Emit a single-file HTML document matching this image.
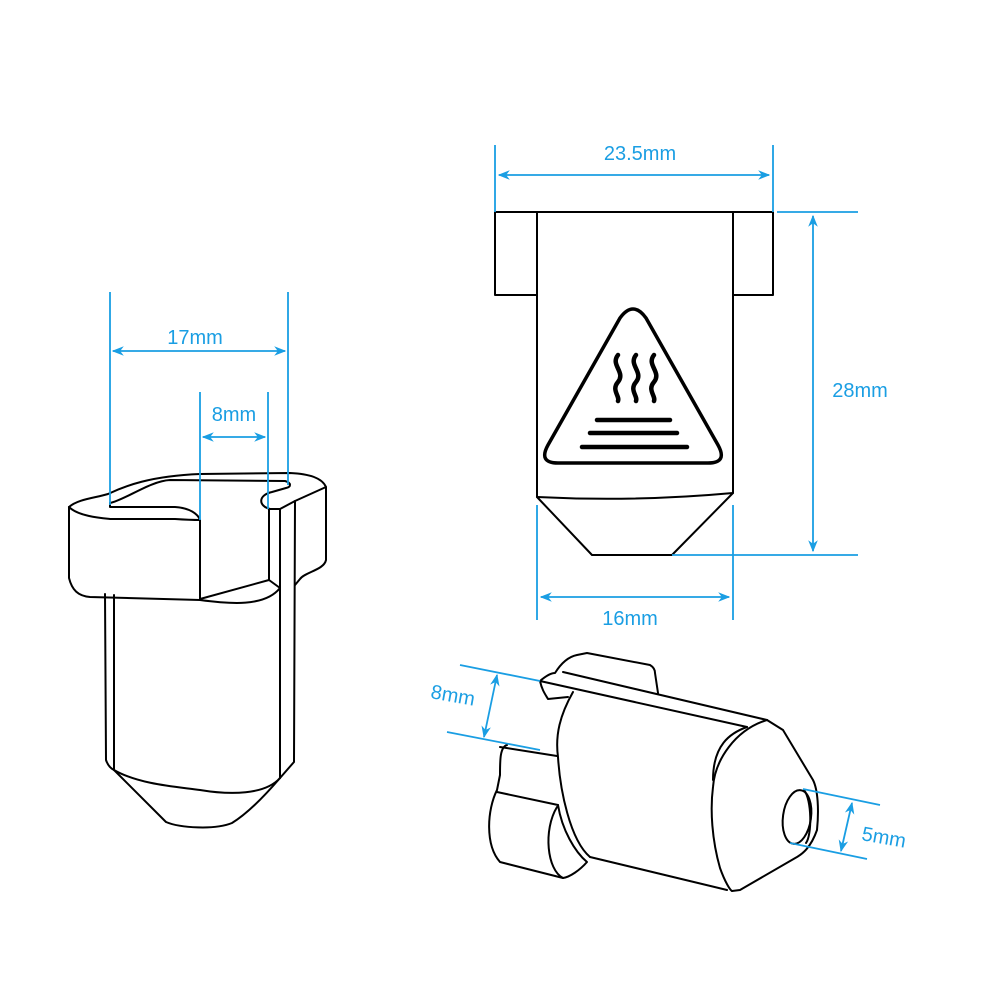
<!DOCTYPE html>
<html><head><meta charset="utf-8"><style>
html,body{margin:0;padding:0;background:#fff;width:1000px;height:1000px;overflow:hidden}
svg{display:block}
text{font-family:"Liberation Sans",sans-serif;font-size:20px;fill:#1a9ee3}
</style></head><body>
<svg width="1000" height="1000" viewBox="0 0 1000 1000" xmlns="http://www.w3.org/2000/svg">
<defs>
<marker id="a" viewBox="0 0 10 10" refX="9" refY="5" markerWidth="12" markerHeight="12" orient="auto-start-reverse" markerUnits="userSpaceOnUse"><path d="M0,1 L10,5 L0,9 L3,5 Z" fill="#1a9ee3"/></marker>
</defs>
<g fill="none" stroke="#000" stroke-width="2" stroke-linejoin="round" stroke-linecap="round">
<path d="M69,507 C78,499 95,498 108,494 C125,486 150,476 200,474 L290,473 C310,474 322,478 326,487 L326,560 C324,570 305,572 300,579 L295,585"/>
<path d="M69,507 L69,578 C72,590 78,596 90,597 L200,600"/>
<path d="M69,507 C78,516 100,518 110,519 L175,519 C190,520 198,520 200,520"/>
<path d="M110,503 L110,507 L175,507 C190,508 198,514 200,520 L200,600"/>
<path d="M110,503 C125,500 150,481 170,480 L285,481 C292,483 291,487 286,488 L272,492 C258,495 258,506 270,509 L280,509 L295,501 L326,487"/>
<path d="M269,509 L269,580 L280,588"/>
<path d="M280,509 L280,778"/>
<path d="M295,501 L294,762 L280,778"/>
<path d="M200,599 L269,580"/>
<path d="M200,600 C230,604 265,607 280,588"/>
<path d="M105,594 L106,760 C108,766 112,769 114,770 L114,595"/>
<path d="M114,770 C140,785 180,787 200,790 C230,795 265,795 280,778"/>
<path d="M114,770 L166,822 C180,828 215,830 232,823 C250,812 268,792 280,778"/>
<path d="M537,212 L495,212 L495,295 L537,295"/>
<path d="M733,212 L773,212 L773,295 L733,295"/>
<path d="M537,212 L733,212"/>
<path d="M537,212 L537,497 M733,212 L733,493"/>
<path d="M537,497 Q635,502 733,493 L672,555 L592,555 Z"/>
<path stroke-width="3.5" d="M620,318 Q633,300 646,318 L718,445 Q728,463 708,463 L558,463 Q538,463 548,445 Z"/>
<g stroke-width="4.5">
<path d="M618,355 C610,365 626,372 618,382 C611,390 620,396 618,401"/>
<path d="M636,355 C628,365 644,372 636,382 C629,390 638,396 636,401"/>
<path d="M654,355 C646,365 662,372 654,382 C647,390 656,396 654,401"/>
<path d="M597,420 L670,420 M590,433 L677,433 M582,447 L687,447"/>
</g>
<path d="M540,681 C547,675 552,673 555,673 C560,665 567,657 577,655 L587,653 L650,665 C655,668 655,672 655,673 L658,693"/>
<path d="M563,672 L767,720 M540,681 L747,727"/>
<path d="M540,681 C542,690 545,694 548,699 L568,697"/>
<path d="M573,692 C560,715 555,735 558,757 C560,790 570,840 590,857"/>
<path d="M590,857 L727,890"/>
<path d="M767,720 C735,730 715,760 713,787 C710,810 712,840 720,868 C725,882 730,890 732,891"/>
<path d="M747,727 C730,733 713,745 713,780"/>
<path d="M767,720 L783,730 L813,780 C818,790 819,810 817,830 C810,850 800,855 797,857 L740,890 L732,891"/>
<ellipse cx="797" cy="817" rx="14" ry="27" transform="rotate(8 797 817)"/>
<path d="M804,790 C812,800 812,835 806,843"/>
<path d="M507,745 C500,747 500,760 500,775 L497,790 C487,810 485,845 500,862 L563,878"/>
<path d="M500,747 L557,756"/>
<path d="M497,792 L558,805"/>
<path d="M557,807 C543,830 547,870 563,878"/>
<path d="M558,805 C562,830 575,852 587,862 C580,870 570,877 563,878"/>
</g>
<g fill="none" stroke="#1a9ee3" stroke-width="1.8">
<path d="M495,145 L495,212 M773,145 L773,212"/>
<path d="M499,175 L769,175" marker-start="url(#a)" marker-end="url(#a)"/>
<path d="M777,212 L858,212 M672,555 L858,555"/>
<path d="M813,216 L813,551" marker-start="url(#a)" marker-end="url(#a)"/>
<path d="M537,505 L537,620 M733,505 L733,620"/>
<path d="M541,597 L729,597" marker-start="url(#a)" marker-end="url(#a)"/>
<path d="M110,292 L110,505 M288,292 L288,485"/>
<path d="M113,351 L285,351" marker-start="url(#a)" marker-end="url(#a)"/>
<path d="M200,392 L200,520 M268,392 L268,509"/>
<path d="M203,437 L265,437" marker-start="url(#a)" marker-end="url(#a)"/>
<path d="M460,665 L540,681 M447,732 L540,750"/>
<path d="M497,675 L484,737" marker-start="url(#a)" marker-end="url(#a)"/>
<path d="M803,789 L880,805 M790,843 L867,859"/>
<path d="M852,803 L841,851" marker-start="url(#a)" marker-end="url(#a)"/>
</g>
<text x="640" y="160" text-anchor="middle">23.5mm</text>
<text x="860" y="397" text-anchor="middle">28mm</text>
<text x="630" y="625" text-anchor="middle">16mm</text>
<text x="195" y="344" text-anchor="middle">17mm</text>
<text x="234" y="421" text-anchor="middle">8mm</text>
<text x="453" y="702" text-anchor="middle" transform="rotate(10 453 695)">8mm</text>
<text x="884" y="844" text-anchor="middle" transform="rotate(10 884 837)">5mm</text>
</svg>
</body></html>
